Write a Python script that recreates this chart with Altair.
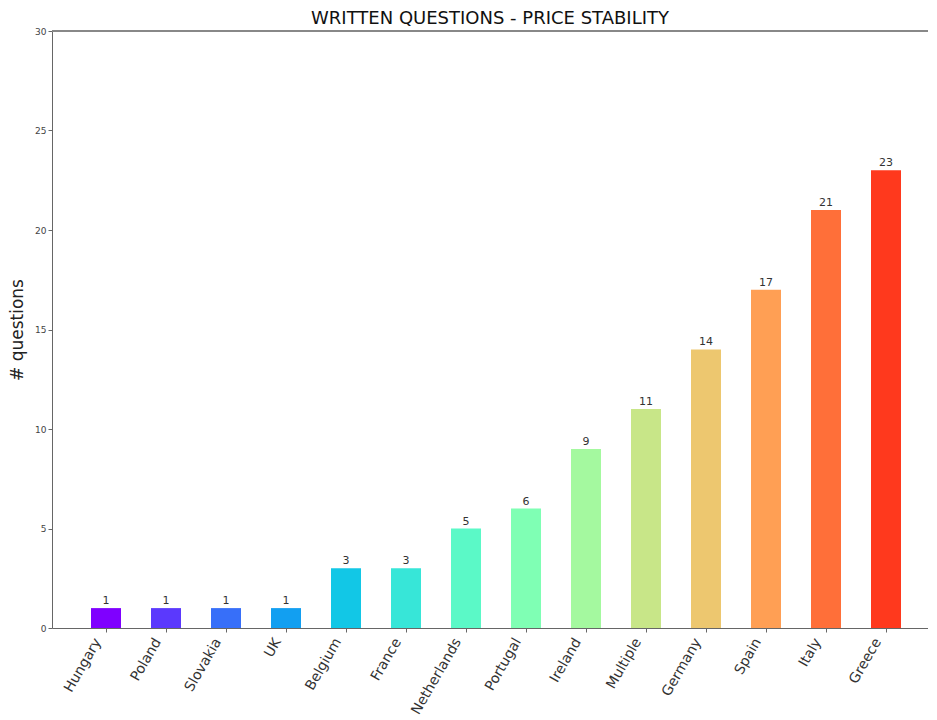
import altair as alt
import pandas as pd

countries = ["Hungary", "Poland", "Slovakia", "UK", "Belgium", "France", "Netherlands",
             "Portugal", "Ireland", "Multiple", "Germany", "Spain", "Italy", "Greece"]
questions = [1, 1, 1, 1, 3, 3, 5, 6, 9, 11, 14, 17, 21, 23]
colors = ["#7f00ff", "#5b39fd", "#376ff9", "#129ff1", "#12c7e6", "#37e6d8", "#5bf9c7",
          "#7fffb4", "#a4f99f", "#c8e688", "#edc76f", "#ff9f54", "#ff6f39", "#ff391d"]
y_ticks = [0, 5, 10, 15, 20, 25, 30]

W = 876
H = 597

df = pd.DataFrame({"country": countries, "questions": questions})

x_enc = alt.X(
    "country:N",
    sort=countries,
    scale=alt.Scale(paddingInner=0.5, paddingOuter=0.55, align=0.591),
    axis=alt.Axis(
        title=None, labelAngle=-60, labelAlign="right", labelBaseline="middle",
        labelFontSize=14, labelColor="#333", labelPadding=7, labelOffset=-8, tickSize=4,
        tickColor="#666", domainColor="#666", labelFont="DejaVu Sans",
    ),
)
y_enc = alt.Y(
    "questions:Q",
    scale=alt.Scale(domain=[0, 30], nice=False),
    axis=alt.Axis(
        title="# questions", values=y_ticks, grid=False, labelFontSize=9,
        labelColor="#444", tickSize=4, tickColor="#666", domainColor="#666",
        titleFontSize=17, titleFontWeight="normal", titleColor="#222",
        titlePadding=8, labelPadding=2, titleFont="DejaVu Sans", labelFont="DejaVu Sans",
    ),
)

base = alt.Chart(df)

bars = base.mark_bar().encode(
    x=x_enc,
    y=y_enc,
    color=alt.Color("country:N", scale=alt.Scale(domain=countries, range=colors), legend=None),
)

labels = base.mark_text(dy=-7, fontSize=11, color="#333", font="DejaVu Sans").encode(
    x=alt.X("country:N", sort=countries),
    y="questions:Q",
    text="questions:Q",
)

top_rule = base.mark_rule(color="#888", strokeWidth=1.5).encode(
    x=alt.value(0), x2=alt.value(W), y=alt.value(0)
)

chart = (
    alt.layer(bars, labels, top_rule)
    .properties(
        width=W,
        height=H,
        autosize=alt.AutoSizeParams(type="none"),
        padding={"left": 44, "top": 23, "right": 0, "bottom": 90},
        title=alt.TitleParams(
            "WRITTEN QUESTIONS - PRICE STABILITY", fontSize=18, fontWeight="normal",
            font="DejaVu Sans", color="#111", offset=-1, anchor="middle",
        ),
    )
    .configure_view(stroke=None)
)

chart.save("out.html", embed_options={"renderer": "svg", "actions": False})
